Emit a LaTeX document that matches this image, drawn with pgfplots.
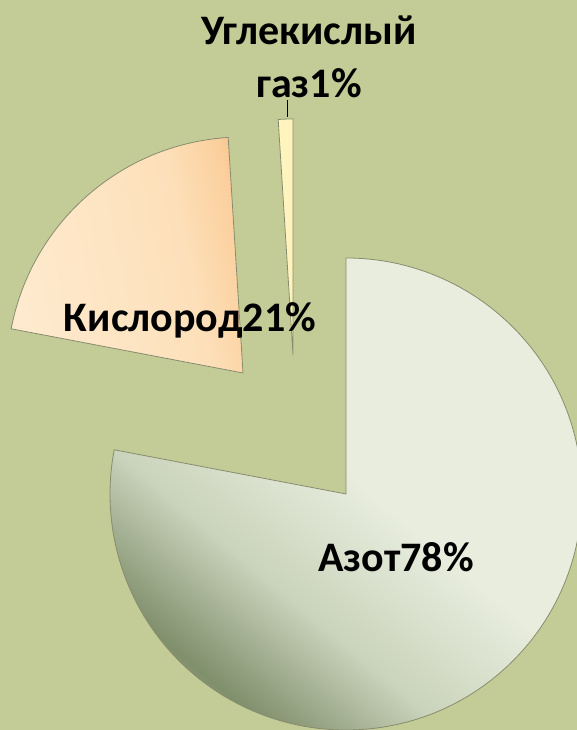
\documentclass[border=0pt]{standalone}
\usepackage{pgfplots}
\pgfplotsset{compat=1.18}
\usepackage{pgfplotstable}
\usepackage{fontspec}
\setmainfont{Carlito}
\definecolor{bgcol}{RGB}{195,204,150}
\definecolor{edgecol}{RGB}{135,140,110}
\definecolor{azlight}{RGB}{232,237,222}
\definecolor{azmid}{RGB}{202,211,187}
\definecolor{azmid2}{RGB}{160,173,140}
\definecolor{azdark}{RGB}{128,143,108}
\definecolor{kilight}{RGB}{254,234,206}
\definecolor{kimid}{RGB}{253,224,186}
\definecolor{kimid2}{RGB}{251,208,158}
\definecolor{kiorange}{RGB}{248,188,128}
\definecolor{gazcol}{RGB}{255,244,190}
\pgfdeclareverticalshading{azotshade}{100bp}{color(0bp)=(azmid2); color(20bp)=(azmid2); color(26bp)=(azdark); color(38bp)=(azmid); color(52bp)=(azlight); color(100bp)=(azlight)}
\pgfdeclarehorizontalshading{kislshade}{100bp}{color(0bp)=(kilight); color(25bp)=(kilight); color(62bp)=(kimid); color(74bp)=(kimid2); color(80bp)=(kiorange); color(100bp)=(kiorange)}
\pgfplotstableread{
label value dx dy
Azot 78 0 0
Kislorod 21 -103 121
Gaz 1 -53 139
}\piedata
\begin{document}
\begin{tikzpicture}
\pgfplotstablegetelem{0}{value}\of\piedata \let\vA\pgfplotsretval
\pgfplotstablegetelem{1}{value}\of\piedata \let\vB\pgfplotsretval
\pgfplotstablegetelem{2}{value}\of\piedata \let\vC\pgfplotsretval
\pgfplotstablegetelem{1}{dx}\of\piedata \let\dxB\pgfplotsretval
\pgfplotstablegetelem{1}{dy}\of\piedata \let\dyB\pgfplotsretval
\pgfplotstablegetelem{2}{dx}\of\piedata \let\dxC\pgfplotsretval
\pgfplotstablegetelem{2}{dy}\of\piedata \let\dyC\pgfplotsretval
\pgfmathsetmacro\sA{90}
\pgfmathsetmacro\eA{90-3.6*\vA}
\pgfmathsetmacro\eB{\eA-3.6*\vB}
\pgfmathsetmacro\eC{\eB-3.6*\vC}
\pgfmathsetmacro\cx{346}
\pgfmathsetmacro\cy{236}
\pgfmathsetmacro\bx{\cx+\dxB}
\pgfmathsetmacro\by{\cy+\dyB}
\pgfmathsetmacro\gx{\cx+\dxC}
\pgfmathsetmacro\gy{\cy+\dyC}
\begin{axis}[x=1pt, y=1pt, xmin=0, xmax=577, ymin=0, ymax=730,
  hide axis, scale only axis, clip=true]
\fill[bgcol] (axis cs:0,0) rectangle (axis cs:577,730);
% Azot
\path[shading=azotshade, shading angle=-40, draw=edgecol, line width=0.8pt]
  (axis cs:\cx,\cy) -- ++(\sA:236pt) arc[start angle=\sA, end angle=\eA, radius=236pt] -- cycle;
% Kislorod
\path[shading=kislshade, shading angle=12, draw=edgecol, line width=0.8pt]
  (axis cs:\bx,\by) -- ++(\eA:236pt) arc[start angle=\eA, end angle=\eB, radius=236pt] -- cycle;
% Gaz
\path[fill=gazcol, draw=edgecol, line width=0.8pt]
  (axis cs:\gx,\gy) -- ++(\eB:236pt) arc[start angle=\eB, end angle=\eC, radius=236pt] -- cycle;
\draw[black, line width=0.8pt] (axis cs:287,630) -- (axis cs:287,613);
\node[font=\fontsize{42}{46}\selectfont\bfseries] at (axis cs:396,173) {Азот78\%};
\node[font=\fontsize{42}{46}\selectfont\bfseries] at (axis cs:190,410) {Кислород21\%};
\node[font=\fontsize{42}{46}\selectfont\bfseries] at (axis cs:309,700) {Углекислый};
\node[font=\fontsize{42}{46}\selectfont\bfseries] at (axis cs:309,647) {газ1\%};
\end{axis}
\end{tikzpicture}
\end{document}
